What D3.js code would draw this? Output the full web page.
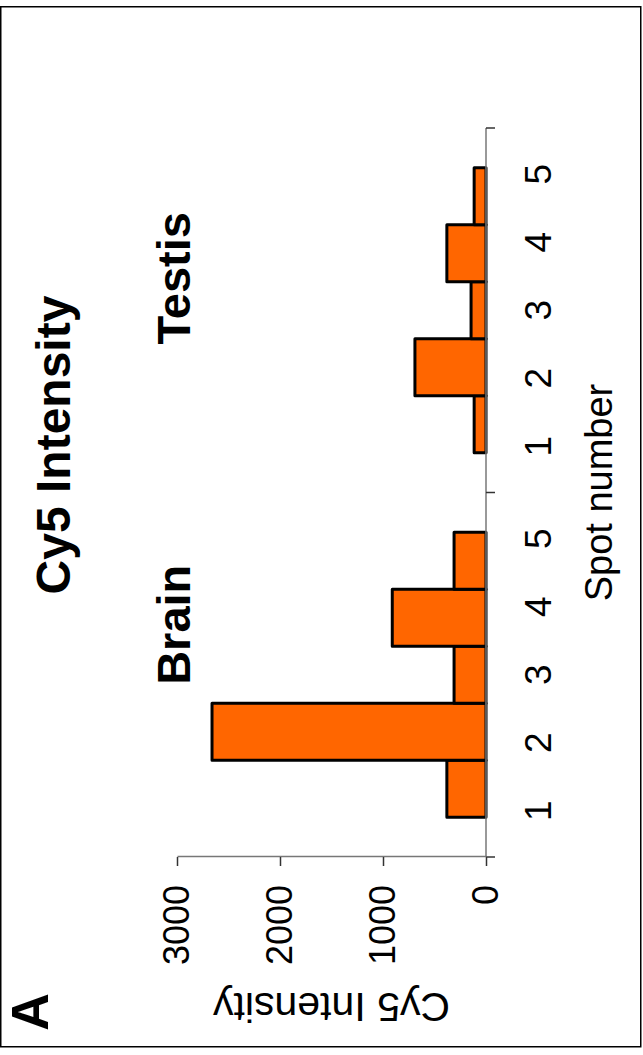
<!DOCTYPE html>
<html>
<head>
<meta charset="utf-8">
<script src="https://cdn.jsdelivr.net/npm/d3@7"></script>
<style>
  html, body { margin: 0; padding: 0; background: #fff; }
  svg { display: block; }
  text { font-family: "Liberation Sans", Arial, Helvetica, sans-serif; fill: #000; }
</style>
</head>
<body>
<svg id="chart" width="643" height="1055"></svg>
<script>
// Tissues along the category axis and the spots measured in each
const tissues = ["Brain", "Testis"];
const spots = ["1", "2", "3", "4", "5"];

// Cy5 intensity per spot
const brainValues = [380, 2660, 310, 910, 310];
const testisValues = [115, 690, 145, 380, 115];

const valueTicks = [0, 1000, 2000, 3000];

const chartTitle = "Cy5 Intensity";
const valueTitle = "Cy5 Intensity";
const categoryTitle = "Spot number";
const panelLabel = "A";

const W = 643, H = 1055;
const svg = d3.select("#chart");

// frame around the panel
svg.append("rect")
  .attr("x", 0.75).attr("y", 6.75)
  .attr("width", 640).attr("height", 1040)
  .attr("fill", "none").attr("stroke", "#000").attr("stroke-width", 1.5);

// The figure is laid out as an upright column chart and turned a quarter turn
// counter-clockwise: local x runs up the page, local y runs across it.
const g = svg.append("g").attr("transform", `translate(0,${H}) rotate(-90)`);

const rows = tissues.map((t, i) => ({
  tissue: t,
  values: (i === 0 ? brainValues : testisValues).map((v, j) => ({ spot: spots[j], value: v }))
}));

const x = d3.scaleBand().domain(tissues).range([198, 927]).padding(0);
const xSpot = d3.scaleBand().domain(spots).range([0, x.bandwidth()])
  .paddingInner(0).paddingOuter(0.7);
const xLabel = d3.scalePoint().domain(spots).range([0, x.bandwidth()]).padding(0.68);
const y = d3.scaleLinear().domain([0, 3000]).range([486, 177]);

// tissue name placement inside each group (offset along the category axis)
const tissueLabelShift = { Brain: 50, Testis: 32 };

// bars
const grp = g.selectAll("g.tissue").data(rows).join("g")
  .attr("class", "tissue")
  .attr("transform", d => `translate(${x(d.tissue)},0)`);

grp.selectAll("rect").data(d => d.values).join("rect")
  .attr("x", d => xSpot(d.spot))
  .attr("width", xSpot.bandwidth())
  .attr("y", d => y(d.value))
  .attr("height", d => y(0) - y(d.value))
  .attr("fill", "#FF6600")
  .attr("stroke", "#000")
  .attr("stroke-width", 3)
  .attr("stroke-linejoin", "round");

// spot numbers under each tissue group
grp.selectAll("text.spot").data(spots).join("text")
  .attr("class", "spot")
  .attr("x", d => xLabel(d))
  .attr("y", 551)
  .attr("text-anchor", "middle")
  .attr("font-size", 37)
  .text(d => d);

// tissue names inside the plot
grp.append("text")
  .attr("x", d => x.bandwidth() / 2 + tissueLabelShift[d.tissue])
  .attr("y", 190)
  .attr("text-anchor", "middle")
  .attr("font-size", 47)
  .attr("font-weight", "bold")
  .text(d => d.tissue);

// category axis: line with ticks between the groups
const xAxis = g.append("g").attr("transform", `translate(0,${y(0)})`);
xAxis.append("line")
  .attr("x1", x.range()[0]).attr("x2", x.range()[1])
  .attr("stroke", "#777").attr("stroke-width", 1.5);
const bounds = tissues.map(t => x(t)).concat([x.range()[1]]);
xAxis.selectAll("line.tick").data(bounds).join("line")
  .attr("class", "tick")
  .attr("x1", d => d).attr("x2", d => d)
  .attr("y1", 0).attr("y2", 9)
  .attr("stroke", "#333").attr("stroke-width", 1.5);

// value axis
const yAxis = g.append("g")
  .attr("transform", `translate(${x.range()[0]},0)`)
  .call(d3.axisLeft(y).tickValues(valueTicks).tickFormat(d3.format("d"))
    .tickSize(9).tickPadding(19).tickSizeOuter(0));
yAxis.select(".domain").attr("stroke", "#777").attr("stroke-width", 1.5);
yAxis.selectAll(".tick line").attr("stroke", "#333").attr("stroke-width", 1.5);
yAxis.selectAll(".tick text")
  .attr("font-size", 36)
  .attr("font-family", "Liberation Sans, Arial, sans-serif")
  .attr("fill", "#000");

// axis titles
g.append("text")
  .attr("transform", `translate(62,${(y(0) + y(3000)) / 2}) rotate(-90)`)
  .attr("text-anchor", "middle")
  .attr("font-size", 41)
  .text(valueTitle);

g.append("text")
  .attr("x", (x.range()[0] + x.range()[1]) / 2)
  .attr("y", 612)
  .attr("text-anchor", "middle")
  .attr("font-size", 38)
  .text(categoryTitle);

// chart title
g.append("text")
  .attr("x", 610)
  .attr("y", 70)
  .attr("text-anchor", "middle")
  .attr("font-size", 48)
  .attr("font-weight", "bold")
  .text(chartTitle);

// panel letter
g.append("text")
  .attr("x", 43)
  .attr("y", 48)
  .attr("text-anchor", "middle")
  .attr("font-size", 52)
  .attr("font-weight", "bold")
  .text(panelLabel);
</script>
</body>
</html>
